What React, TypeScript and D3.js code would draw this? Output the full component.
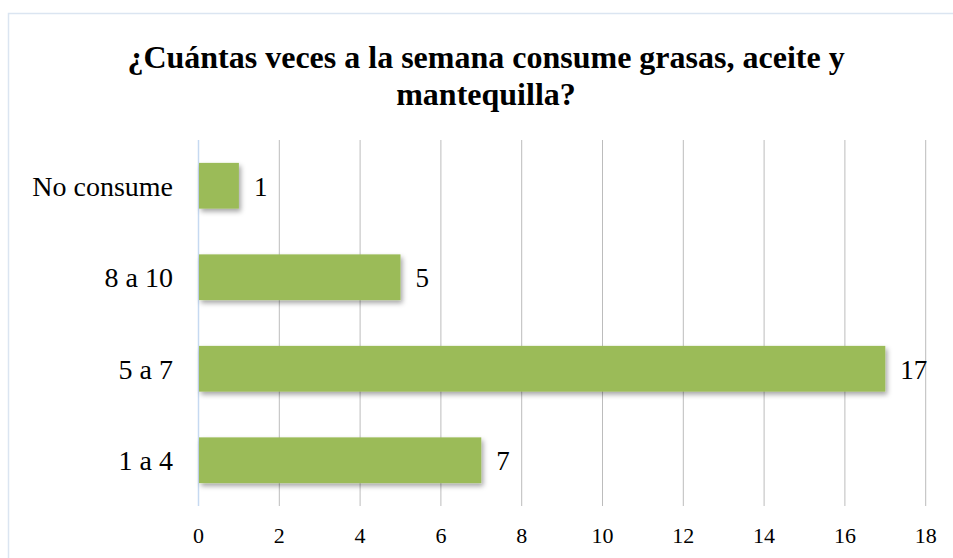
import React from "react";
import * as d3 from "d3";

const categories = ["No consume", "8 a 10", "5 a 7", "1 a 4"];
const values = [1, 5, 17, 7];
const xTicks = [0, 2, 4, 6, 8, 10, 12, 14, 16, 18];
const titleLines = ["¿Cuántas veces a la semana consume grasas, aceite y", "mantequilla?"];

const W = 953;
const H = 558;
const M = { left: 198.5, right: 925.7, top: 140, bottom: 506 };

export default function App() {
  const x = d3.scaleLinear().domain([0, 18]).range([M.left, M.right]);
  const y = d3
    .scaleBand<string>()
    .domain(categories)
    .range([M.top, M.bottom])
    .paddingInner(0.5)
    .paddingOuter(0.25);
  const font = '"Liberation Serif", "DejaVu Serif", serif';
  const ts = { fontFamily: font };
  return (
    <svg
      width={W}
      height={H}
      style={{ position: "absolute", left: 0, top: 0, background: "#fff" }}
    >
      <defs>
        <filter id="shadow" x="-10%" y="-20%" width="130%" height="160%">
          <feDropShadow dx="2" dy="3" stdDeviation="2.5" floodColor="#000" floodOpacity="0.35" />
        </filter>
      </defs>
      <rect x={8.5} y={13.5} width={W + 10} height={H + 10} fill="#fff" stroke="#dbe5f1" strokeWidth={1.5} />
      {titleLines.map((t, i) => (
        <text key={i} x={486} y={68 + i * 37} textAnchor="middle" fontWeight="bold" fontSize={32} fill="#000" style={ts}>
          {t}
        </text>
      ))}
      {xTicks.filter((t) => t > 0).map((t) => (
        <line key={t} x1={x(t)} x2={x(t)} y1={M.top} y2={M.bottom} stroke="#bcbcbc" strokeWidth={1} />
      ))}
      <line x1={x(0)} x2={x(0)} y1={M.top} y2={M.bottom} stroke="#c6d9f1" strokeWidth={1.5} />
      {categories.map((c, i) => (
        <g key={c}>
          <rect
            x={x(0) + 0.5}
            y={y(c)!}
            width={x(values[i]) - x(0) - 0.5}
            height={y.bandwidth()}
            fill="#9bbb59"
            filter="url(#shadow)"
          />
          <text x={x(values[i]) + 15} y={y(c)! + y.bandwidth() / 2 + 10} fontSize={27} fill="#000" style={ts}>
            {values[i]}
          </text>
          <text x={173} y={y(c)! + y.bandwidth() / 2 + 10} textAnchor="end" fontSize={28} fill="#000" style={ts}>
            {c}
          </text>
        </g>
      ))}
      {xTicks.map((t) => (
        <text key={t} x={x(t)} y={543} textAnchor="middle" fontSize={22} fill="#000" style={ts}>
          {t}
        </text>
      ))}
    </svg>
  );
}
